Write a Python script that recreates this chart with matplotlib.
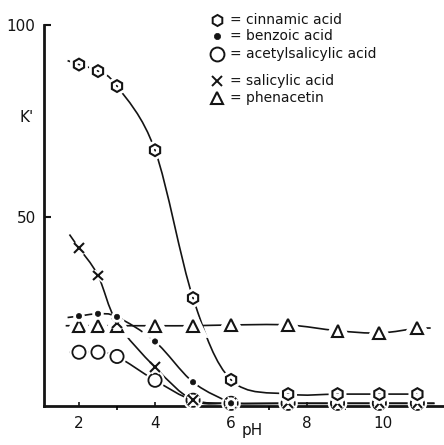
import matplotlib
matplotlib.use("Agg")
import matplotlib.pyplot as plt
import matplotlib.patheffects as pe
from matplotlib.path import Path
from matplotlib.patches import PathPatch
import numpy as np

# capacity factor K' against pH of the mobile phase
ph_cinnamic = [2.0, 2.5, 3.0, 4.0, 5.0, 6.0, 7.5, 8.8, 9.9, 10.9]
k_cinnamic = [89.7, 88.0, 84.1, 67.4, 28.9, 7.6, 3.9, 3.9, 3.9, 3.9]

ph_benzoic = [2.0, 2.5, 3.0, 4.0, 5.0, 6.0]
k_benzoic = [24.2, 24.8, 24.0, 17.6, 7.0, 1.5]

ph_acetylsal = [2.0, 2.5, 3.0, 4.0, 5.0, 6.0, 7.5, 8.8, 9.9, 10.9]
k_acetylsal = [14.8, 14.8, 13.7, 7.5, 2.3, 1.5, 1.5, 1.5, 1.5, 1.5]

ph_salicylic = [2.0, 2.5, 3.0, 4.0, 5.0, 6.0, 7.5, 8.8, 9.9, 10.9]
k_salicylic = [41.9, 34.8, 22.5, 10.9, 2.3, 1.5, 1.5, 1.5, 1.5, 1.5]

ph_phenacetin = [2.0, 2.5, 3.0, 4.0, 5.0, 6.0, 7.5, 8.8, 9.9, 10.9]
k_phenacetin = [21.7, 21.7, 21.7, 21.7, 21.7, 21.9, 21.9, 20.4, 19.8, 21.1]

legend_labels = ["= cinnamic acid", "= benzoic acid", "= acetylsalicylic acid",
                 "= salicylic acid", "= phenacetin"]

ink = "#141414"
plt.rcParams["font.family"] = ["DejaVu Sans"]


def smooth_path(x, y, lead=0.0, tail=0.0):
    # Catmull-Rom curve through the points, drawn as cubic Bezier pieces
    pts = np.column_stack([x, y]).astype(float)
    n = len(pts)
    verts, codes = [], []
    if lead:
        s = (pts[1, 1] - pts[0, 1]) / (pts[1, 0] - pts[0, 0])
        verts += [[pts[0, 0] - lead, pts[0, 1] - s * lead], pts[0]]
        codes += [Path.MOVETO, Path.LINETO]
    else:
        verts.append(pts[0])
        codes.append(Path.MOVETO)
    for i in range(n - 1):
        p0 = pts[i - 1] if i > 0 else pts[i]
        p3 = pts[i + 2] if i + 2 < n else pts[i + 1]
        c1 = pts[i] + (pts[i + 1] - p0) / 6.0
        c2 = pts[i + 1] - (p3 - pts[i]) / 6.0
        verts += [c1, c2, pts[i + 1]]
        codes += [Path.CURVE4] * 3
    if tail:
        verts.append([pts[-1, 0] + tail, pts[-1, 1]])
        codes.append(Path.LINETO)
    return Path(verts, codes)


fig = plt.figure(figsize=(4.44, 4.45), dpi=100)
ax = fig.add_axes([44 / 444, 39 / 445, 400 / 444, 381 / 445])

series = [
    # x, y, marker, size, edge width, face, gap, lead, tail
    (ph_phenacetin, k_phenacetin, "^", 8.5, 1.5, "white", 3.5, 0.35, 0.35),
    (ph_acetylsal, k_acetylsal, "o", 9.5, 1.3, "white", 1.6, 0.25, 0.45),
    (ph_salicylic, k_salicylic, "x", 7.0, 1.5, "none", 1.2, 0.25, 0.45),
    (ph_benzoic, k_benzoic, "o", 3.8, 0.5, ink, 2.0, 0.3, 0.0),
    (ph_cinnamic, k_cinnamic, "h", 8.5, 1.5, "none", 2.0, 0.3, 0.0),
]

for x, y, m, ms, mew, fc, gap, lead, tail in series:
    path = smooth_path(x, y, lead=lead, tail=tail)
    ax.add_patch(PathPatch(path, facecolor="none", edgecolor=ink, lw=1.2,
                           capstyle="butt", clip_on=False))
    ax.plot(x, y, linestyle="none", marker=m, ms=ms, mew=mew, mec=ink, mfc=fc,
            clip_on=False,
            path_effects=[pe.withStroke(linewidth=mew + 2 * gap, foreground="white")])

ax.set_xlim(1.08, 11.6)
ax.set_ylim(0.8, 100)

for side in ["top", "right"]:
    ax.spines[side].set_visible(False)
for side in ["left", "bottom"]:
    ax.spines[side].set_linewidth(2.0)
    ax.spines[side].set_color(ink)
    ax.spines[side].set_zorder(0.5)

ax.set_xticks([2, 4, 6, 8, 10])
ax.set_xticks([3, 5, 7, 9, 11], minor=True)
ax.set_yticks([50, 100])
ax.tick_params(axis="both", direction="in", colors=ink, labelsize=11)
ax.tick_params(axis="y", which="major", length=5, width=1.5, pad=6)
ax.tick_params(axis="x", which="major", length=3, width=1.2, pad=7)
ax.tick_params(axis="x", which="minor", length=3, width=1.2)

fig.text(27 / 444, 1 - 118 / 445, "K'", fontsize=11, color=ink,
         ha="center", va="center")
fig.text(252 / 444, 1 - 431 / 445, "pH", fontsize=11, color=ink,
         ha="center", va="center")

# key in the upper right corner
key_marks = [("h", 8.0, 1.4, "white"), ("o", 4.5, 0.5, ink), ("o", 10.0, 1.4, "white"),
             ("x", 7.0, 1.4, "none"), ("^", 9.0, 1.5, "white")]
key_rows = [20, 36, 54, 81, 98]
for (m, ms, mew, fc), row, label in zip(key_marks, key_rows, legend_labels):
    fig.lines.append(plt.Line2D([217 / 444], [1 - row / 445], transform=fig.transFigure,
                                marker=m, ms=ms, mew=mew, mec=ink, mfc=fc,
                                linestyle="none"))
    fig.text(230 / 444, 1 - row / 445, label, fontsize=10, color=ink,
             ha="left", va="center")

fig.savefig("out.png", dpi=100)
